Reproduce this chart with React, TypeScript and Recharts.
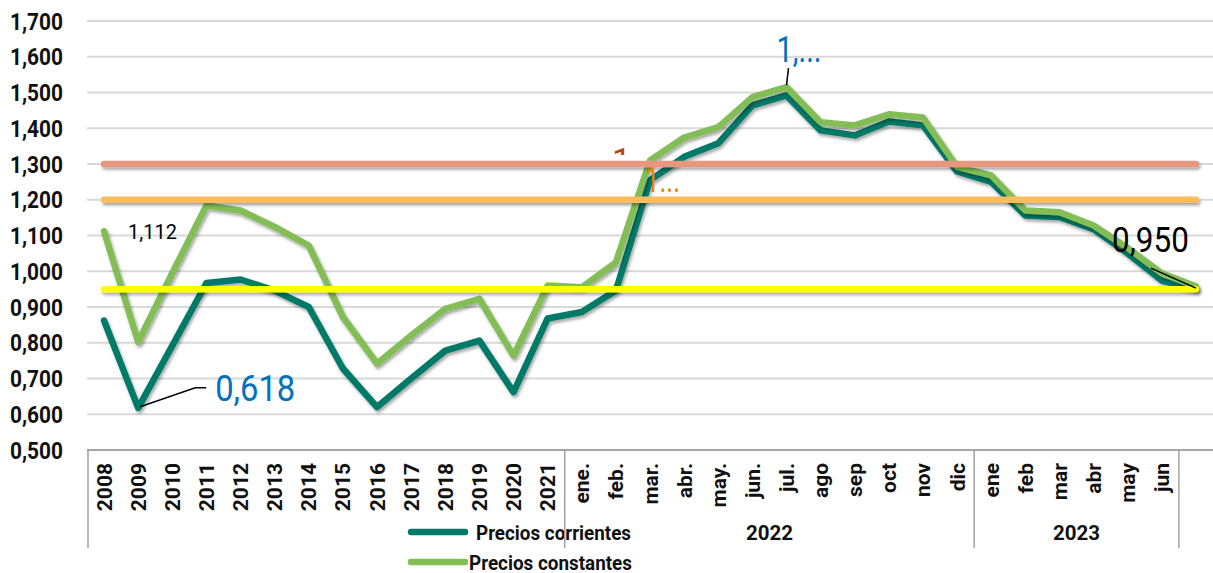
import React from 'react';
import { LineChart, Line, XAxis, YAxis, CartesianGrid, Legend } from 'recharts';

// ---------- data ----------
const categories = [
  '2008', '2009', '2010', '2011', '2012', '2013', '2014', '2015', '2016', '2017', '2018', '2019', '2020', '2021',
  'ene.', 'feb.', 'mar.', 'abr.', 'may.', 'jun.', 'jul.', 'ago', 'sep', 'oct', 'nov', 'dic',
  'ene', 'feb', 'mar', 'abr', 'may', 'jun', '',
];

const preciosCorrientes = [
  0.862, 0.618, 0.792, 0.967, 0.977, 0.946, 0.900, 0.728, 0.620, 0.700, 0.778, 0.806, 0.662, 0.868,
  0.886, 0.946, 1.255, 1.320, 1.358, 1.464, 1.492, 1.394, 1.380, 1.419, 1.408, 1.279,
  1.250, 1.156, 1.152, 1.118, 1.050, 0.974, 0.950,
];

const preciosConstantes = [
  1.112, 0.802, 0.995, 1.184, 1.170, 1.124, 1.072, 0.872, 0.742, 0.820, 0.895, 0.923, 0.764, 0.960,
  0.955, 1.025, 1.310, 1.374, 1.403, 1.487, 1.515, 1.417, 1.408, 1.439, 1.430, 1.292,
  1.268, 1.170, 1.165, 1.128, 1.065, 0.994, 0.958,
];

const umbralAlto = 1.3;
const umbralMedio = 1.2;
const umbralBajo = 0.95;

const yTicks = [0.5, 0.6, 0.7, 0.8, 0.9, 1.0, 1.1, 1.2, 1.3, 1.4, 1.5, 1.6, 1.7];

const groups = [
  { label: '', from: 0, to: 13 },
  { label: '2022', from: 14, to: 25 },
  { label: '2023', from: 26, to: 31 },
];

const seriesNames = ['Precios corrientes', 'Precios constantes'];

const rows = categories.map((c, i) => ({
  cat: c,
  corr: preciosCorrientes[i],
  cons: preciosConstantes[i],
  alto: umbralAlto,
  medio: umbralMedio,
  bajo: umbralBajo,
}));

// ---------- layout / style ----------
const W = 1213;
const H = 573;
const M_TOP = 21;
const X_H = 123;
const Y_W = 87;
const N = categories.length;
const BW = (W - Y_W) / N;
const AXIS_Y = H - X_H;

const C_DARK = '#007A67';
const C_LIGHT = '#82BE55';
const C_SALMON = '#E8977F';
const C_ORANGE = '#FFBC5E';
const C_YELLOW = '#FFFF00';
const C_BLUE = '#0070C0';
const FONT = 'Roboto, "Noto Sans", sans-serif';

const fmt = (v: number) => v.toFixed(3).replace('.', ',');

const YTick = (props: any) => {
  const { y, payload } = props;
  return (
    <text x={10} y={y} dy={8.5} textAnchor="start" fontFamily={FONT} fontWeight={700} fontSize={23.5} fill="#111" textLength={53} lengthAdjust="spacingAndGlyphs">
      {fmt(payload.value)}
    </text>
  );
};

const XTick = (props: any) => {
  const { x, payload, index } = props;
  const els: any[] = [];
  els.push(
    <text
      key="t"
      transform={`translate(${x},${AXIS_Y + 13}) rotate(-90)`}
      textAnchor="end"
      dy={7.5}
      fontFamily={FONT}
      fontWeight={700}
      fontSize={21}
      fill="#111"
    >
      {payload.value}
    </text>
  );
  groups.forEach((g, gi) => {
    if (index === g.from && gi === 0) {
      els.push(<line key={'l' + gi} x1={x - BW / 2 + 1} x2={x - BW / 2 + 1} y1={AXIS_Y} y2={AXIS_Y + 98} stroke="#A0A0A0" strokeWidth={1.5} />);
    }
    if (index === g.from && g.label) {
      const cx = x - BW / 2 + ((g.to - g.from + 1) * BW) / 2;
      els.push(
        <text key={'g' + gi} x={cx} y={AXIS_Y + 90} textAnchor="middle" fontFamily={FONT} fontWeight={700} fontSize={20.5} fill="#111">
          {g.label}
        </text>
      );
    }
    if (index === g.to) {
      els.push(<line key={'r' + gi} x1={x + BW / 2} x2={x + BW / 2} y1={AXIS_Y} y2={AXIS_Y + 98} stroke="#A0A0A0" strokeWidth={1.5} />);
    }
  });
  return <g>{els}</g>;
};

const corrLabel = (p: any) => {
  const { x, y, index } = p;
  if (index === 1) {
    return (
      <g>
        <polyline points={`${x + 2},${y - 1} ${x + 57},${y - 20} ${x + 68},${y - 20}`} fill="none" stroke="#000" strokeWidth={1.5} />
        <text x={x + 77} y={y - 7} fontFamily={FONT} fontSize={37} fill={C_BLUE} textLength={80} lengthAdjust="spacingAndGlyphs">
          {fmt(preciosCorrientes[index])}
        </text>
      </g>
    );
  }
  if (index === N - 1) {
    return (
      <g>
        <line x1={x} y1={y - 1} x2={x - 45} y2={y - 21} stroke="#000" strokeWidth={1.5} />
        <text x={x - 84} y={y - 37} fontFamily={FONT} fontSize={35} fill="#000" textLength={77} lengthAdjust="spacingAndGlyphs">
          {fmt(preciosCorrientes[index])}
        </text>
      </g>
    );
  }
  return <g />;
};

const consLabel = (p: any) => {
  const { x, y, index } = p;
  if (index === 0) {
    return (
      <text x={x + 24} y={y + 8} fontFamily={FONT} fontSize={20} fill="#000">
        {fmt(preciosConstantes[index])}
      </text>
    );
  }
  if (index === 20) {
    return (
      <g>
        <line x1={x} y1={y - 2} x2={x + 2} y2={y - 19} stroke="#000" strokeWidth={1.5} />
        <text x={x - 10} y={y - 25} fontFamily={FONT} fontSize={37} fill={C_BLUE} textLength={45} lengthAdjust="spacingAndGlyphs">
          1,...
        </text>
      </g>
    );
  }
  return <g />;
};

const medioLabel = (p: any) => {
  const { x, y, index } = p;
  if (index === 16) {
    return (
      <text x={x - 5} y={y - 8} fontFamily={FONT} fontSize={35} fill="#E8830F" textLength={35} lengthAdjust="spacingAndGlyphs">
        1...
      </text>
    );
  }
  return <g />;
};

const altoLabel = (p: any) => {
  const { x, y, index } = p;
  if (index === 15) {
    return (
      <g>
        <defs>
          <clipPath id="clipAlto">
            <rect x={x - 12} y={y - 26} width={30} height={17} />
          </clipPath>
        </defs>
        <text x={x - 4} y={y + 8} fontFamily={FONT} fontSize={34} fill="#B5441F" clipPath="url(#clipAlto)">
          1
        </text>
      </g>
    );
  }
  return <g />;
};

const LegendContent = () => (
  <svg width={240} height={60} style={{ display: 'block', overflow: 'visible' }}>
    <line x1={9} x2={63} y1={14} y2={14} stroke={C_DARK} strokeWidth={6.5} strokeLinecap="round" />
    <text x={74} y={21.5} fontFamily={FONT} fontWeight={700} fontSize={21} fill="#111" textLength={155} lengthAdjust="spacingAndGlyphs">
      {seriesNames[0]}
    </text>
    <line x1={9} x2={63} y1={44} y2={44} stroke={C_LIGHT} strokeWidth={6.5} strokeLinecap="round" />
    <text x={67} y={52} fontFamily={FONT} fontWeight={700} fontSize={21} fill="#111" textLength={163} lengthAdjust="spacingAndGlyphs">
      {seriesNames[1]}
    </text>
  </svg>
);

export default function App() {
  return (
    <div style={{ position: 'absolute', left: 0, top: 0, width: W, height: H }}>
      <style>{`.shd .recharts-line-curve { filter: url(#lineShadow); }`}</style>
      <svg width={0} height={0} style={{ position: 'absolute' }}>
        <defs>
          <filter id="lineShadow" filterUnits="userSpaceOnUse" x={0} y={0} width={W} height={H}>
            <feDropShadow dx={1.5} dy={2.5} stdDeviation={1.5} floodColor="#000" floodOpacity={0.35} />
          </filter>
        </defs>
      </svg>
      <LineChart width={W} height={H} data={rows} margin={{ top: M_TOP, right: 0, bottom: 0, left: 0 }}>
        <CartesianGrid vertical={false} stroke="#D9D9D9" strokeWidth={2} />
        <XAxis
          dataKey="cat"
          height={X_H}
          interval={0}
          tickLine={false}
          axisLine={{ stroke: '#A6A6A6', strokeWidth: 2 }}
          padding={{ left: BW / 2, right: BW / 2 }}
          tick={<XTick />}
        />
        <YAxis
          width={Y_W}
          type="number"
          domain={[0.5, 1.7]}
          ticks={yTicks}
          interval={0}
          axisLine={false}
          tickLine={false}
          tick={<YTick />}
        />
        <Legend
          layout="horizontal"
          verticalAlign="middle"
          align="center"
          wrapperStyle={{ left: 402, top: 518, width: 240, height: 60, zIndex: -1 }}
          content={<LegendContent />}
        />
        <Line
          className="shd"
          type="linear"
          dataKey="corr"
          name={seriesNames[0]}
          stroke={C_DARK}
          strokeWidth={6.5}
          strokeLinejoin="round"
          strokeLinecap="round"
          dot={false}
          activeDot={false}
          isAnimationActive={false}
          label={corrLabel}
        />
        <Line
          className="shd"
          type="linear"
          dataKey="cons"
          name={seriesNames[1]}
          stroke={C_LIGHT}
          strokeWidth={6.5}
          strokeLinejoin="round"
          strokeLinecap="round"
          dot={false}
          activeDot={false}
          isAnimationActive={false}
          label={consLabel}
        />
        <Line
          className="shd"
          type="linear"
          dataKey="alto"
          stroke={C_SALMON}
          strokeWidth={6.5}
          strokeLinecap="round"
          dot={false}
          activeDot={false}
          isAnimationActive={false}
          legendType="none"
          label={altoLabel}
        />
        <Line
          className="shd"
          type="linear"
          dataKey="medio"
          stroke={C_ORANGE}
          strokeWidth={6.5}
          strokeLinecap="round"
          dot={false}
          activeDot={false}
          isAnimationActive={false}
          legendType="none"
          label={medioLabel}
        />
        <Line
          className="shd"
          type="linear"
          dataKey="bajo"
          stroke={C_YELLOW}
          strokeWidth={6.5}
          strokeLinecap="round"
          dot={false}
          activeDot={false}
          isAnimationActive={false}
          legendType="none"
        />
      </LineChart>
    </div>
  );
}
